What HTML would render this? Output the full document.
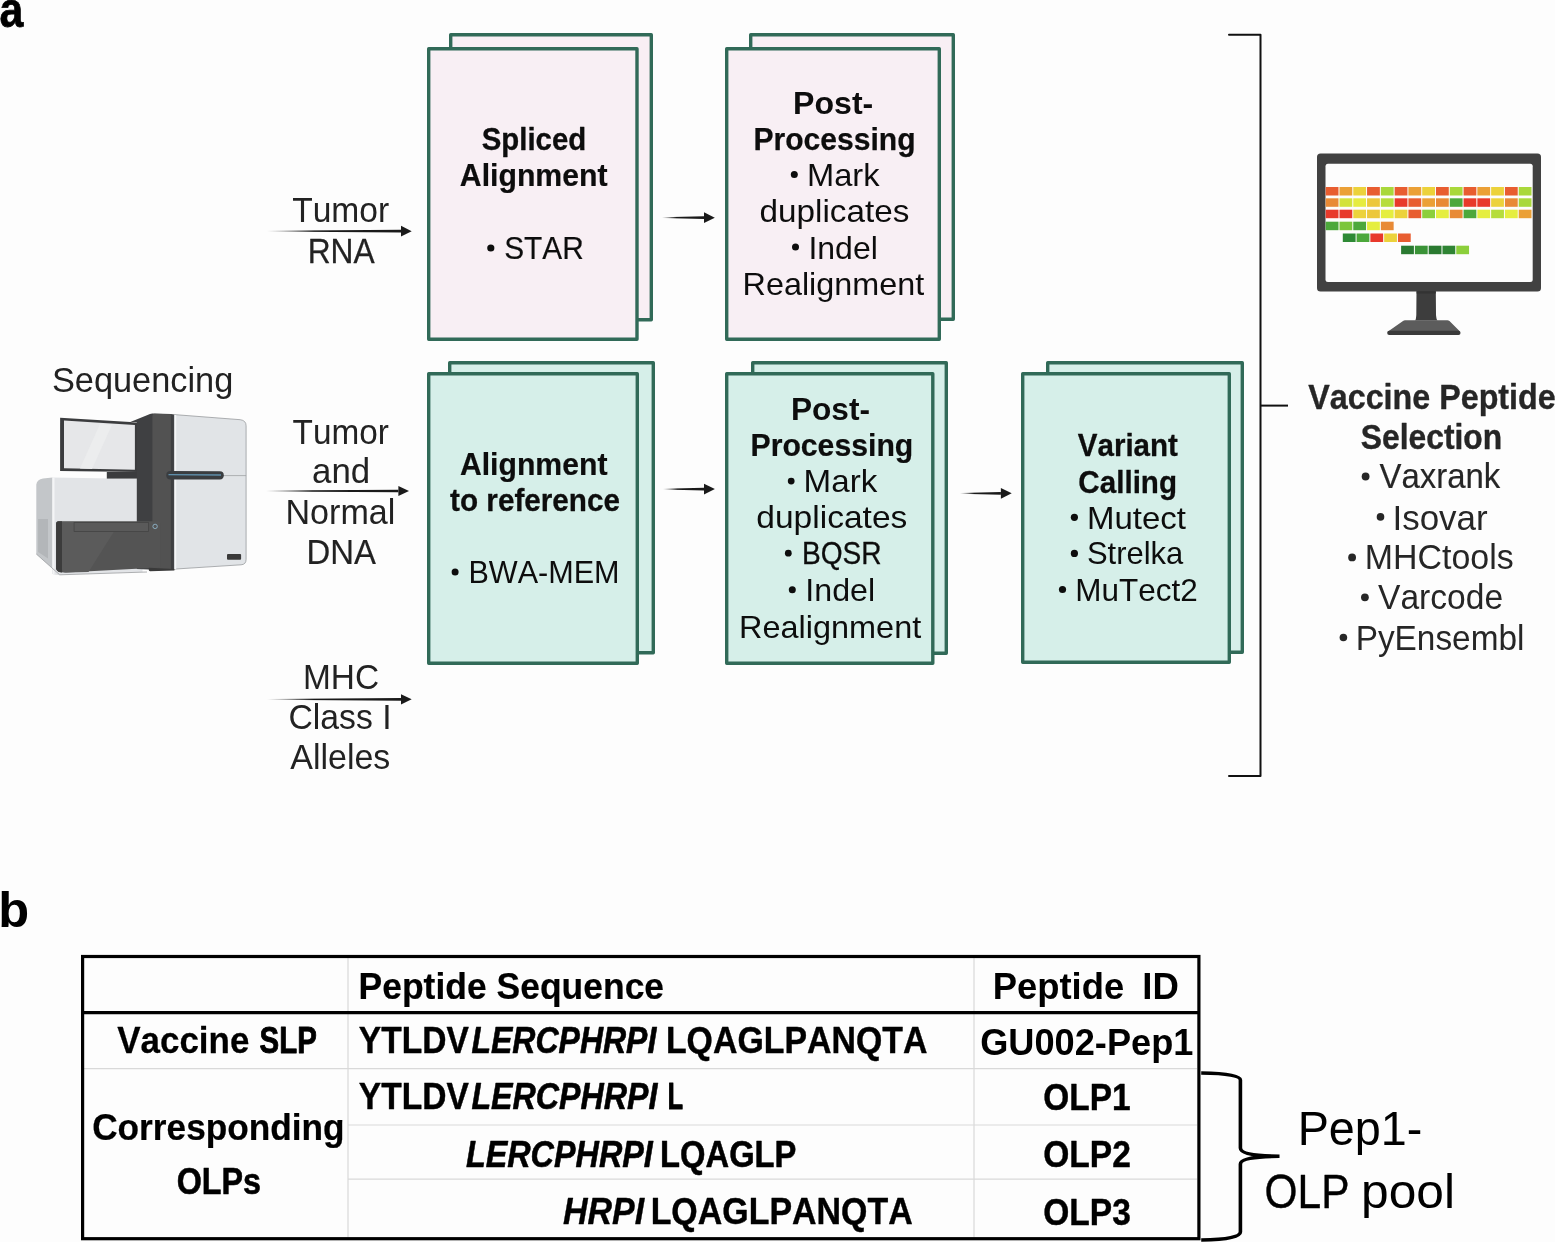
<!DOCTYPE html>
<html><head><meta charset="utf-8"><style>
html,body{margin:0;padding:0;background:#fdfdfd;}
body{width:1555px;height:1242px;overflow:hidden;}
svg{display:block;font-family:"Liberation Sans", sans-serif;font-kerning:none;will-change:transform;}
</style></head><body>
<svg width="1555" height="1242" viewBox="0 0 1555 1242">
<defs>
<linearGradient id="fade" x1="0" x2="1" y1="0" y2="0"><stop offset="0" stop-color="#1a1a1a" stop-opacity="0"/><stop offset="0.35" stop-color="#1a1a1a" stop-opacity="1"/><stop offset="1" stop-color="#1a1a1a"/></linearGradient>
</defs>
<rect x="450.7" y="34.7" width="200.6" height="285.1" fill="#f8eff4" stroke="#316a58" stroke-width="3.4" stroke-linejoin="round"/>
<rect x="428.7" y="48.7" width="208.30000000000004" height="290.6" fill="#f8eff4" stroke="#316a58" stroke-width="3.4" stroke-linejoin="round"/>
<rect x="750.7" y="34.7" width="202.6" height="284.6" fill="#f8eff4" stroke="#316a58" stroke-width="3.4" stroke-linejoin="round"/>
<rect x="726.7" y="48.7" width="212.6" height="290.6" fill="#f8eff4" stroke="#316a58" stroke-width="3.4" stroke-linejoin="round"/>
<rect x="449.7" y="362.7" width="203.6" height="290.1" fill="#d6efe9" stroke="#316a58" stroke-width="3.4" stroke-linejoin="round"/>
<rect x="428.7" y="373.7" width="208.6" height="289.6" fill="#d6efe9" stroke="#316a58" stroke-width="3.4" stroke-linejoin="round"/>
<rect x="752.7" y="362.7" width="193.6" height="290.6" fill="#d6efe9" stroke="#316a58" stroke-width="3.4" stroke-linejoin="round"/>
<rect x="726.7" y="373.7" width="206.1" height="289.6" fill="#d6efe9" stroke="#316a58" stroke-width="3.4" stroke-linejoin="round"/>
<rect x="1047.7" y="362.7" width="194.6" height="289.6" fill="#d6efe9" stroke="#316a58" stroke-width="3.4" stroke-linejoin="round"/>
<rect x="1022.7" y="373.7" width="206.6" height="288.6" fill="#d6efe9" stroke="#316a58" stroke-width="3.4" stroke-linejoin="round"/>
<polygon points="267,230.79999999999998 401,229.85 401,232.54999999999998 267,231.6" fill="url(#fade)"/><polygon points="401,225.79999999999998 411.7,231.2 401,236.6" fill="#1a1a1a"/>
<polygon points="266,490.6 398.4,489.65 398.4,492.35 266,491.4" fill="url(#fade)"/><polygon points="398.4,486.0 409.0,491.0 398.4,496.0" fill="#1a1a1a"/>
<polygon points="267,698.9 401,697.9499999999999 401,700.65 267,699.6999999999999" fill="url(#fade)"/><polygon points="401,694.1999999999999 411.7,699.3 401,704.4" fill="#1a1a1a"/>
<polygon points="662,217.29999999999998 704,216.35 704,219.04999999999998 662,218.1" fill="url(#fade)"/><polygon points="704,212.29999999999998 714.8,217.7 704,223.1" fill="#1a1a1a"/>
<polygon points="663,488.70000000000005 704,487.75 704,490.45000000000005 663,489.5" fill="url(#fade)"/><polygon points="704,483.70000000000005 714.9,489.1 704,494.5" fill="#1a1a1a"/>
<polygon points="960,492.90000000000003 1000.9,491.95 1000.9,494.65000000000003 960,493.7" fill="url(#fade)"/><polygon points="1000.9,487.90000000000003 1011.7,493.3 1000.9,498.7" fill="#1a1a1a"/>
<polyline points="1229,34.7 1260.5,34.7 1260.5,776 1229,776" fill="none" stroke="#111" stroke-width="2" stroke-linejoin="round" stroke-linecap="round"/>
<line x1="1260.5" y1="405.6" x2="1288" y2="405.6" stroke="#111" stroke-width="2"/>
<rect x="1317" y="153.5" width="224" height="138" rx="3.5" fill="#414141"/>
<rect x="1325.5" y="163.7" width="207.2" height="118.3" rx="2.5" fill="#fdfdfd"/>
<path d="M1416.5,291 L1435.8,291 L1436,315 Q1436.5,320 1437.5,320.5 L1415,320.5 Q1416,320 1416.3,315 Z" fill="#3d3d3d"/>
<path d="M1405,320.2 L1447.4,320.2 Q1448.5,320.2 1449.5,321 L1460,331.5 L1388,331.5 L1403,321 Q1404,320.2 1405,320.2 Z" fill="#5c5c5c"/>
<rect x="1387.2" y="330.8" width="73.3" height="4.2" rx="2" fill="#3a3a3a"/>
<rect x="1416.6" y="291.3" width="19.2" height="2.2" fill="#333"/>
<rect x="1325.70" y="187.0" width="12.79" height="8.5" fill="#e85d30"/>
<rect x="1339.49" y="187.0" width="12.79" height="8.5" fill="#eba036"/>
<rect x="1353.27" y="187.0" width="12.79" height="8.5" fill="#ecd23b"/>
<rect x="1367.06" y="187.0" width="12.79" height="8.5" fill="#e85d30"/>
<rect x="1380.85" y="187.0" width="12.79" height="8.5" fill="#a9d83b"/>
<rect x="1394.63" y="187.0" width="12.79" height="8.5" fill="#e85d30"/>
<rect x="1408.42" y="187.0" width="12.79" height="8.5" fill="#eba036"/>
<rect x="1422.21" y="187.0" width="12.79" height="8.5" fill="#ecd23b"/>
<rect x="1435.99" y="187.0" width="12.79" height="8.5" fill="#e85d30"/>
<rect x="1449.78" y="187.0" width="12.79" height="8.5" fill="#a9d83b"/>
<rect x="1463.57" y="187.0" width="12.79" height="8.5" fill="#e85d30"/>
<rect x="1477.35" y="187.0" width="12.79" height="8.5" fill="#eba036"/>
<rect x="1491.14" y="187.0" width="12.79" height="8.5" fill="#ecd23b"/>
<rect x="1504.93" y="187.0" width="12.79" height="8.5" fill="#e85d30"/>
<rect x="1518.71" y="187.0" width="12.79" height="8.5" fill="#a9d83b"/>
<rect x="1325.70" y="198.3" width="12.79" height="8.5" fill="#e88a36"/>
<rect x="1339.49" y="198.3" width="12.79" height="8.5" fill="#d3e23c"/>
<rect x="1353.27" y="198.3" width="12.79" height="8.5" fill="#e6ec40"/>
<rect x="1367.06" y="198.3" width="12.79" height="8.5" fill="#ecc73b"/>
<rect x="1380.85" y="198.3" width="12.79" height="8.5" fill="#b6dd3b"/>
<rect x="1394.63" y="198.3" width="12.79" height="8.5" fill="#e8392b"/>
<rect x="1408.42" y="198.3" width="12.79" height="8.5" fill="#e85d30"/>
<rect x="1422.21" y="198.3" width="12.79" height="8.5" fill="#eba036"/>
<rect x="1435.99" y="198.3" width="12.79" height="8.5" fill="#e88a36"/>
<rect x="1449.78" y="198.3" width="12.79" height="8.5" fill="#4ca83b"/>
<rect x="1463.57" y="198.3" width="12.79" height="8.5" fill="#e8392b"/>
<rect x="1477.35" y="198.3" width="12.79" height="8.5" fill="#e8392b"/>
<rect x="1491.14" y="198.3" width="12.79" height="8.5" fill="#ecd23b"/>
<rect x="1504.93" y="198.3" width="12.79" height="8.5" fill="#e88a36"/>
<rect x="1518.71" y="198.3" width="12.79" height="8.5" fill="#a9d83b"/>
<rect x="1325.70" y="209.7" width="12.79" height="8.5" fill="#e8392b"/>
<rect x="1339.49" y="209.7" width="12.79" height="8.5" fill="#e8392b"/>
<rect x="1353.27" y="209.7" width="12.79" height="8.5" fill="#ecd23b"/>
<rect x="1367.06" y="209.7" width="12.79" height="8.5" fill="#ecc73b"/>
<rect x="1380.85" y="209.7" width="12.79" height="8.5" fill="#e5ee40"/>
<rect x="1394.63" y="209.7" width="12.79" height="8.5" fill="#ecd23b"/>
<rect x="1408.42" y="209.7" width="12.79" height="8.5" fill="#e85d30"/>
<rect x="1422.21" y="209.7" width="12.79" height="8.5" fill="#8ccf3b"/>
<rect x="1435.99" y="209.7" width="12.79" height="8.5" fill="#e5ee40"/>
<rect x="1449.78" y="209.7" width="12.79" height="8.5" fill="#e88a36"/>
<rect x="1463.57" y="209.7" width="12.79" height="8.5" fill="#4ca83b"/>
<rect x="1477.35" y="209.7" width="12.79" height="8.5" fill="#e5ee40"/>
<rect x="1491.14" y="209.7" width="12.79" height="8.5" fill="#b6dd3b"/>
<rect x="1504.93" y="209.7" width="12.79" height="8.5" fill="#e5ee40"/>
<rect x="1518.71" y="209.7" width="12.79" height="8.5" fill="#eba036"/>
<rect x="1325.70" y="221.7" width="12.79" height="8.5" fill="#4ca83b"/>
<rect x="1339.49" y="221.7" width="12.79" height="8.5" fill="#7cc63b"/>
<rect x="1353.27" y="221.7" width="12.79" height="8.5" fill="#4ca83b"/>
<rect x="1367.06" y="221.7" width="12.79" height="8.5" fill="#e5ee40"/>
<rect x="1380.85" y="221.7" width="12.79" height="8.5" fill="#e88a36"/>
<rect x="1342.80" y="233.5" width="12.79" height="8.5" fill="#2e8a35"/>
<rect x="1356.58" y="233.5" width="12.79" height="8.5" fill="#4ca83b"/>
<rect x="1370.37" y="233.5" width="12.79" height="8.5" fill="#e8392b"/>
<rect x="1384.16" y="233.5" width="12.79" height="8.5" fill="#ecd23b"/>
<rect x="1397.94" y="233.5" width="12.79" height="8.5" fill="#e85d30"/>
<rect x="1401.11" y="245.7" width="12.79" height="8.5" fill="#2a7a31"/>
<rect x="1414.90" y="245.7" width="12.79" height="8.5" fill="#3a9337"/>
<rect x="1428.69" y="245.7" width="12.79" height="8.5" fill="#2a7a31"/>
<rect x="1442.47" y="245.7" width="12.79" height="8.5" fill="#2f8434"/>
<rect x="1456.26" y="245.7" width="12.79" height="8.5" fill="#8ccf3b"/>

<g>
<!-- left base box side face -->
<path d="M36.3,484.5 Q37,479.5 43,478.5 L52.5,477.5 L52.5,574 L59.7,574.8 L36.3,554 Z" fill="#c3c6c9"/>
<path d="M38.1,518.9 L48,518.9 L48,558.5 L38.1,552 Z" fill="#b3b6b9"/>
<!-- left base front face -->
<path d="M52.5,477.5 L142.5,479 L142.5,572 L59.7,574.8 L52.5,574 Z" fill="#e2e4e7"/>
<path d="M52.5,477.5 L54.5,477.5 L54.5,574 L52.5,574 Z" fill="#f4f5f6"/>
<path d="M36.3,554 L59.7,574.8 L147,572" fill="none" stroke="#9a9da0" stroke-width="0.8"/>
<!-- monitor -->
<path d="M60.1,417.7 L130.3,422.1 L137.3,423.1 L137.3,472.1 L60.1,471 Z" fill="#3b3c3e"/>
<path d="M64,420.4 L134.9,425.1 L134.9,469.8 L64,468.3 Z" fill="#e6e7e9"/>
<path d="M80,468.6 L100,424 L112,424.8 L92,469 Z" fill="#ecedee"/>
<!-- connector -->
<rect x="106.8" y="472" width="31.2" height="6.6" fill="#3b3c3e"/>
<!-- tower -->
<path d="M130.3,422.1 L150,413.9 Q151,413.5 153,413.6 L170.9,414 L174.4,414.6 L174.4,569.4 L149.3,569.4 L136.8,569 L136.8,422.6 Z" fill="#3f4042"/>
<path d="M152.4,416 Q152.4,413.8 154.5,413.8 L170.9,414.2 L170.9,569.4 L152.4,569.4 Z" fill="#525252"/>
<!-- right cabinet -->
<path d="M174.4,414.6 L240.3,419.7 Q246.1,420.5 246.1,425.8 L246.1,559.4 Q246.1,564.4 241.1,564.8 L174.4,569.1 Z" fill="#e1e4e7" stroke="#8c8f92" stroke-width="0.7"/>
<rect x="174.4" y="415" width="1.8" height="154" fill="#f6f7f8"/>
<line x1="223" y1="475.6" x2="246.1" y2="475.6" stroke="#9ea1a4" stroke-width="0.8"/>
<rect x="227" y="554" width="14.1" height="5.8" rx="1" fill="#3a3a3a"/>
<!-- handle -->
<path d="M170.5,471 L219.8,471.3 Q223.8,471.5 223.8,475.2 Q223.8,479.3 219.8,479.5 L170.5,479.5 Q166.3,479.5 166.3,475.2 Q166.3,471 170.5,471 Z" fill="#3a3d40"/>
<line x1="168.5" y1="474.6" x2="221" y2="475" stroke="#5f8fab" stroke-width="1.3"/>
<!-- drawer -->
<path d="M58.5,521.2 L158.5,521.2 Q160.1,521.2 160.1,523 L160.1,567.5 L66,572.5 Q57.5,573 56.1,569 L56.1,524 Q56.1,521.2 58.5,521.2 Z" fill="#545454"/>
<path d="M62,522 L120,522 L88.5,572 L66,572.5 Q62,572.6 62,569 Z" fill="#5b5b5b"/>
<path d="M58.5,521.2 L62,521.2 L62,572.6 Q57.5,572.5 56.1,569 L56.1,524 Q56.1,521.2 58.5,521.2 Z" fill="#3c3c3c"/>
<rect x="74.1" y="522.5" width="74.3" height="9" fill="#5a5a5a" stroke="#444" stroke-width="0.8"/>
<circle cx="155.1" cy="526.4" r="2.2" fill="none" stroke="#8fb3c8" stroke-width="0.9"/>
<path d="M148.8,567.8 L174.4,569.1 L174.4,570.5 L150,571.3 Q148.8,571 148.8,570 Z" fill="#3a3a3a"/>
</g>

<line x1="348" y1="958" x2="348" y2="1237" stroke="#d9d9d9" stroke-width="1.2"/>
<line x1="974" y1="958" x2="974" y2="1237" stroke="#d9d9d9" stroke-width="1.2"/>
<line x1="84" y1="1068.7" x2="1197" y2="1068.7" stroke="#d9d9d9" stroke-width="1.2"/>
<line x1="348" y1="1125" x2="1197" y2="1125" stroke="#d9d9d9" stroke-width="1.2"/>
<line x1="348" y1="1179.2" x2="1197" y2="1179.2" stroke="#d9d9d9" stroke-width="1.2"/>
<line x1="82" y1="1012.6" x2="1199" y2="1012.6" stroke="#000" stroke-width="3.2"/>
<rect x="82.6" y="956.5" width="1116.3" height="282.2" fill="none" stroke="#000" stroke-width="3.2"/>
<path d="M1201.2,1073 Q1240.4,1073.5 1240.4,1080 L1240.4,1148 Q1240.4,1156 1279.5,1156.2 Q1240.4,1156.5 1240.4,1164 L1240.4,1232 Q1240.4,1239.5 1201.2,1240" fill="none" stroke="#000" stroke-width="3.6"/>
<text x="-0.38" y="26.60" font-size="50" textLength="23.84" lengthAdjust="spacingAndGlyphs" font-weight="bold" fill="#000" stroke="#000" stroke-width="0.75" stroke-linejoin="round">a</text>
<text x="-1.84" y="926.60" font-size="50" textLength="30.91" lengthAdjust="spacingAndGlyphs" font-weight="bold" fill="#000">b</text>
<text x="51.94" y="391.70" font-size="35" textLength="181.37" lengthAdjust="spacingAndGlyphs" fill="#222">Sequencing</text>
<text x="292.15" y="221.90" font-size="35" textLength="97.01" lengthAdjust="spacingAndGlyphs" fill="#222">Tumor</text>
<text x="307.74" y="262.50" font-size="35" textLength="66.89" lengthAdjust="spacingAndGlyphs" fill="#222" stroke="#222" stroke-width="0.27" stroke-linejoin="round">RNA</text>
<text x="292.55" y="443.50" font-size="35" textLength="96.30" lengthAdjust="spacingAndGlyphs" fill="#222">Tumor</text>
<text x="312.12" y="483.30" font-size="35" textLength="58.13" lengthAdjust="spacingAndGlyphs" fill="#222">and</text>
<text x="285.51" y="523.90" font-size="35" textLength="109.77" lengthAdjust="spacingAndGlyphs" fill="#222">Normal</text>
<text x="306.38" y="563.80" font-size="35" textLength="69.49" lengthAdjust="spacingAndGlyphs" fill="#222" stroke="#222" stroke-width="0.17" stroke-linejoin="round">DNA</text>
<text x="302.96" y="688.90" font-size="35" textLength="76.11" lengthAdjust="spacingAndGlyphs" fill="#222">MHC</text>
<text x="288.49" y="728.90" font-size="35" textLength="103.13" lengthAdjust="spacingAndGlyphs" fill="#222">Class I</text>
<text x="290.33" y="769.30" font-size="35" textLength="99.99" lengthAdjust="spacingAndGlyphs" fill="#222">Alleles</text>
<text x="481.72" y="150.40" font-size="32" textLength="104.45" lengthAdjust="spacingAndGlyphs" font-weight="bold" fill="#0d0d0d" stroke="#0d0d0d" stroke-width="0.33" stroke-linejoin="round">Spliced</text>
<text x="459.86" y="186.00" font-size="32" textLength="147.69" lengthAdjust="spacingAndGlyphs" font-weight="bold" fill="#0d0d0d" stroke="#0d0d0d" stroke-width="0.23" stroke-linejoin="round">Alignment</text>
<circle cx="490.80" cy="248.0" r="3.60" fill="#0d0d0d"/>
<text x="504.13" y="258.90" font-size="32" textLength="79.56" lengthAdjust="spacingAndGlyphs" fill="#0d0d0d" stroke="#0d0d0d" stroke-width="0.18" stroke-linejoin="round">STAR</text>
<text x="793.05" y="114.30" font-size="32" textLength="80.23" lengthAdjust="spacingAndGlyphs" font-weight="bold" fill="#0d0d0d">Post-</text>
<text x="753.51" y="150.40" font-size="32" textLength="162.08" lengthAdjust="spacingAndGlyphs" font-weight="bold" fill="#0d0d0d" stroke="#0d0d0d" stroke-width="0.25" stroke-linejoin="round">Processing</text>
<circle cx="794.30" cy="174.6" r="3.50" fill="#0d0d0d"/>
<text x="807.02" y="185.90" font-size="32" textLength="72.53" lengthAdjust="spacingAndGlyphs" fill="#0d0d0d">Mark</text>
<text x="759.60" y="221.70" font-size="32" textLength="149.70" lengthAdjust="spacingAndGlyphs" fill="#0d0d0d">duplicates</text>
<circle cx="795.50" cy="247.0" r="3.50" fill="#0d0d0d"/>
<text x="808.45" y="258.70" font-size="32" textLength="69.39" lengthAdjust="spacingAndGlyphs" fill="#0d0d0d">Indel</text>
<text x="742.55" y="294.80" font-size="32" textLength="181.59" lengthAdjust="spacingAndGlyphs" fill="#0d0d0d">Realignment</text>
<text x="459.96" y="474.80" font-size="32" textLength="147.49" lengthAdjust="spacingAndGlyphs" font-weight="bold" fill="#0d0d0d" stroke="#0d0d0d" stroke-width="0.23" stroke-linejoin="round">Alignment</text>
<text x="450.09" y="510.60" font-size="32" textLength="169.88" lengthAdjust="spacingAndGlyphs" font-weight="bold" fill="#0d0d0d" stroke="#0d0d0d" stroke-width="0.30" stroke-linejoin="round">to reference</text>
<circle cx="455.10" cy="572.0" r="3.50" fill="#0d0d0d"/>
<text x="468.39" y="583.20" font-size="32" textLength="151.22" lengthAdjust="spacingAndGlyphs" fill="#0d0d0d">BWA-MEM</text>
<text x="790.88" y="419.80" font-size="32" textLength="79.08" lengthAdjust="spacingAndGlyphs" font-weight="bold" fill="#0d0d0d">Post-</text>
<text x="750.49" y="456.10" font-size="32" textLength="162.81" lengthAdjust="spacingAndGlyphs" font-weight="bold" fill="#0d0d0d" stroke="#0d0d0d" stroke-width="0.23" stroke-linejoin="round">Processing</text>
<circle cx="791.20" cy="481.1" r="3.40" fill="#0d0d0d"/>
<text x="803.58" y="492.40" font-size="32" textLength="73.67" lengthAdjust="spacingAndGlyphs" fill="#0d0d0d">Mark</text>
<text x="756.29" y="528.40" font-size="32" textLength="151.02" lengthAdjust="spacingAndGlyphs" fill="#0d0d0d">duplicates</text>
<circle cx="788.30" cy="553.2" r="3.40" fill="#0d0d0d"/>
<text x="802.06" y="564.30" font-size="32" textLength="79.58" lengthAdjust="spacingAndGlyphs" fill="#0d0d0d" stroke="#0d0d0d" stroke-width="0.32" stroke-linejoin="round">BQSR</text>
<circle cx="792.30" cy="589.7" r="3.50" fill="#0d0d0d"/>
<text x="805.33" y="601.20" font-size="32" textLength="69.83" lengthAdjust="spacingAndGlyphs" fill="#0d0d0d">Indel</text>
<text x="739.04" y="637.50" font-size="32" textLength="182.20" lengthAdjust="spacingAndGlyphs" fill="#0d0d0d">Realignment</text>
<text x="1077.75" y="456.20" font-size="32" textLength="100.16" lengthAdjust="spacingAndGlyphs" font-weight="bold" fill="#0d0d0d" stroke="#0d0d0d" stroke-width="0.31" stroke-linejoin="round">Variant</text>
<text x="1078.34" y="492.50" font-size="32" textLength="98.70" lengthAdjust="spacingAndGlyphs" font-weight="bold" fill="#0d0d0d" stroke="#0d0d0d" stroke-width="0.30" stroke-linejoin="round">Calling</text>
<circle cx="1074.40" cy="517.3" r="3.60" fill="#0d0d0d"/>
<text x="1087.00" y="528.70" font-size="32" textLength="98.95" lengthAdjust="spacingAndGlyphs" fill="#0d0d0d">Mutect</text>
<circle cx="1074.40" cy="553.4" r="3.60" fill="#0d0d0d"/>
<text x="1086.89" y="564.10" font-size="32" textLength="96.41" lengthAdjust="spacingAndGlyphs" fill="#0d0d0d">Strelka</text>
<circle cx="1062.50" cy="589.5" r="3.60" fill="#0d0d0d"/>
<text x="1075.32" y="601.10" font-size="32" textLength="122.47" lengthAdjust="spacingAndGlyphs" fill="#0d0d0d">MuTect2</text>
<text x="1308.25" y="408.70" font-size="35" textLength="247.47" lengthAdjust="spacingAndGlyphs" font-weight="bold" fill="#262626" stroke="#262626" stroke-width="0.35" stroke-linejoin="round">Vaccine Peptide</text>
<text x="1360.79" y="448.50" font-size="35" textLength="141.38" lengthAdjust="spacingAndGlyphs" font-weight="bold" fill="#262626" stroke="#262626" stroke-width="0.40" stroke-linejoin="round">Selection</text>
<circle cx="1365.60" cy="476.5" r="3.90" fill="#262626"/>
<text x="1379.44" y="488.40" font-size="35" textLength="120.83" lengthAdjust="spacingAndGlyphs" fill="#262626" stroke="#262626" stroke-width="0.17" stroke-linejoin="round">Vaxrank</text>
<circle cx="1380.50" cy="516.9" r="3.80" fill="#262626"/>
<text x="1392.47" y="529.50" font-size="35" textLength="95.21" lengthAdjust="spacingAndGlyphs" fill="#262626">Isovar</text>
<circle cx="1352.10" cy="557.4" r="3.90" fill="#262626"/>
<text x="1364.82" y="569.40" font-size="35" textLength="148.91" lengthAdjust="spacingAndGlyphs" fill="#262626">MHCtools</text>
<circle cx="1364.90" cy="597.3" r="3.90" fill="#262626"/>
<text x="1378.05" y="609.20" font-size="35" textLength="125.04" lengthAdjust="spacingAndGlyphs" fill="#262626">Varcode</text>
<circle cx="1343.40" cy="637.5" r="3.80" fill="#262626"/>
<text x="1355.66" y="650.30" font-size="35" textLength="168.77" lengthAdjust="spacingAndGlyphs" fill="#262626">PyEnsembl</text>
<text x="358.52" y="999.00" font-size="37.0" textLength="305.59" lengthAdjust="spacingAndGlyphs" font-weight="bold" fill="#000" stroke="#000" stroke-width="0.20" stroke-linejoin="round">Peptide Sequence</text>
<text x="992.66" y="998.50" font-size="37.0" textLength="131.58" lengthAdjust="spacingAndGlyphs" font-weight="bold" fill="#000">Peptide</text>
<text x="1142.35" y="998.50" font-size="37.0" textLength="36.58" lengthAdjust="spacingAndGlyphs" font-weight="bold" fill="#000">ID</text>
<text x="117.19" y="1053.30" font-size="37.0" textLength="132.18" lengthAdjust="spacingAndGlyphs" font-weight="bold" fill="#000" stroke="#000" stroke-width="0.26" stroke-linejoin="round">Vaccine</text>
<text x="259.62" y="1053.30" font-size="37.0" textLength="57.12" lengthAdjust="spacingAndGlyphs" font-weight="bold" fill="#000" stroke="#000" stroke-width="0.93" stroke-linejoin="round">SLP</text>
<text x="358.84" y="1053.30" font-size="37.0" textLength="109.97" lengthAdjust="spacingAndGlyphs" font-weight="bold" fill="#000" stroke="#000" stroke-width="0.43" stroke-linejoin="round">YTLDV</text>
<text x="471.46" y="1053.30" font-size="37.0" textLength="184.88" lengthAdjust="spacingAndGlyphs" font-weight="bold" font-style="italic" fill="#000" stroke="#000" stroke-width="0.64" stroke-linejoin="round">LERCPHRPI</text>
<text x="665.93" y="1053.30" font-size="37.0" textLength="261.56" lengthAdjust="spacingAndGlyphs" font-weight="bold" fill="#000" stroke="#000" stroke-width="0.40" stroke-linejoin="round">LQAGLPANQTA</text>
<text x="980.22" y="1054.50" font-size="37.0" textLength="213.19" lengthAdjust="spacingAndGlyphs" font-weight="bold" fill="#000">GU002-Pep1</text>
<text x="358.84" y="1109.20" font-size="37.0" textLength="109.97" lengthAdjust="spacingAndGlyphs" font-weight="bold" fill="#000" stroke="#000" stroke-width="0.43" stroke-linejoin="round">YTLDV</text>
<text x="471.44" y="1109.20" font-size="37.0" textLength="186.11" lengthAdjust="spacingAndGlyphs" font-weight="bold" font-style="italic" fill="#000" stroke="#000" stroke-width="0.61" stroke-linejoin="round">LERCPHRPI</text>
<text x="667.73" y="1109.20" font-size="37.0" textLength="15.24" lengthAdjust="spacingAndGlyphs" font-weight="bold" fill="#000" stroke="#000" stroke-width="1.20" stroke-linejoin="round">L</text>
<text x="1043.25" y="1110.40" font-size="37.0" textLength="87.26" lengthAdjust="spacingAndGlyphs" font-weight="bold" fill="#000" stroke="#000" stroke-width="0.44" stroke-linejoin="round">OLP1</text>
<text x="92.17" y="1139.50" font-size="37.0" textLength="252.48" lengthAdjust="spacingAndGlyphs" font-weight="bold" fill="#000" stroke="#000" stroke-width="0.23" stroke-linejoin="round">Corresponding</text>
<text x="465.93" y="1166.50" font-size="37.0" textLength="186.92" lengthAdjust="spacingAndGlyphs" font-weight="bold" font-style="italic" fill="#000" stroke="#000" stroke-width="0.59" stroke-linejoin="round">LERCPHRPI</text>
<text x="660.08" y="1166.50" font-size="37.0" textLength="136.37" lengthAdjust="spacingAndGlyphs" font-weight="bold" fill="#000" stroke="#000" stroke-width="0.54" stroke-linejoin="round">LQAGLP</text>
<text x="1043.23" y="1166.60" font-size="37.0" textLength="87.70" lengthAdjust="spacingAndGlyphs" font-weight="bold" fill="#000" stroke="#000" stroke-width="0.42" stroke-linejoin="round">OLP2</text>
<text x="176.67" y="1194.10" font-size="37.0" textLength="84.37" lengthAdjust="spacingAndGlyphs" font-weight="bold" fill="#000" stroke="#000" stroke-width="0.58" stroke-linejoin="round">OLPs</text>
<text x="562.99" y="1223.70" font-size="37.0" textLength="81.25" lengthAdjust="spacingAndGlyphs" font-weight="bold" font-style="italic" fill="#000" stroke="#000" stroke-width="0.37" stroke-linejoin="round">HRPI</text>
<text x="650.63" y="1223.70" font-size="37.0" textLength="262.07" lengthAdjust="spacingAndGlyphs" font-weight="bold" fill="#000" stroke="#000" stroke-width="0.39" stroke-linejoin="round">LQAGLPANQTA</text>
<text x="1043.24" y="1224.60" font-size="37.0" textLength="87.56" lengthAdjust="spacingAndGlyphs" font-weight="bold" fill="#000" stroke="#000" stroke-width="0.43" stroke-linejoin="round">OLP3</text>
<text x="1297.67" y="1144.90" font-size="47.5" textLength="124.71" lengthAdjust="spacingAndGlyphs" fill="#000">Pep1-</text>
<text x="1264.60" y="1208.20" font-size="47.5" textLength="84.94" lengthAdjust="spacingAndGlyphs" fill="#000" stroke="#000" stroke-width="0.41" stroke-linejoin="round">OLP</text>
<text x="1361.00" y="1208.20" font-size="47.5" textLength="93.93" lengthAdjust="spacingAndGlyphs" fill="#000">pool</text>
</svg>
</body></html>
